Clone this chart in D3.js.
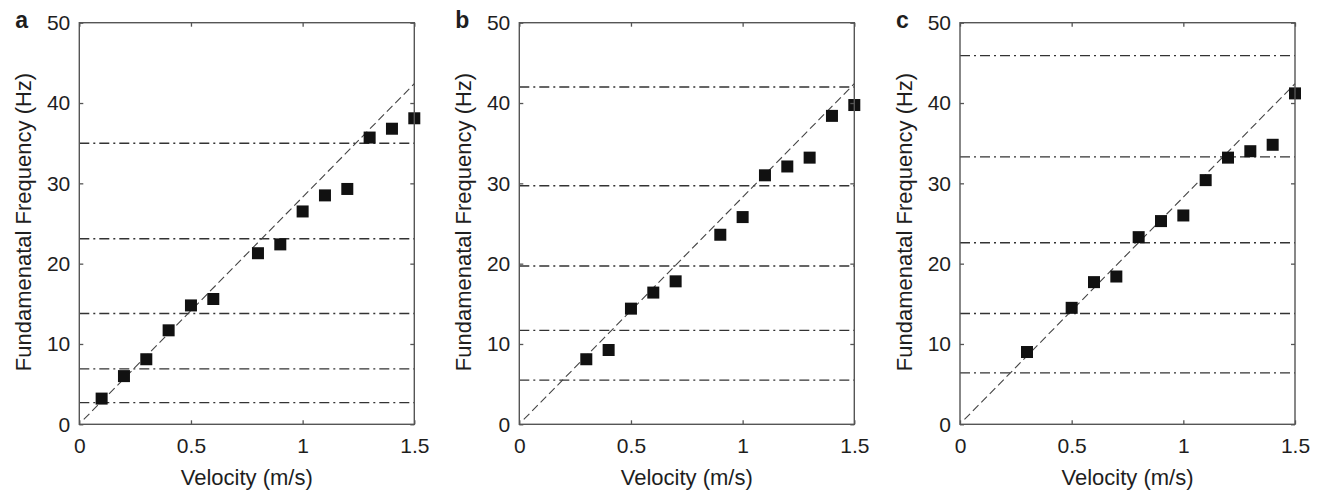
<!DOCTYPE html>
<html>

<head>
    <meta charset="utf-8">
    <script src="https://d3js.org/d3.v7.min.js"></script>
    <style>
        body { margin: 0; background: #fff; }
        text { font-family: "Liberation Sans", Arial, sans-serif; fill: #1e1e1e; }
    </style>
</head>

<body>
    <script>
        // panel a
        let velA = [0.1, 0.2, 0.3, 0.4, 0.5, 0.6, 0.8, 0.9, 1.0, 1.1, 1.2, 1.3, 1.4, 1.5];
        let freqA = [3.2, 6.0, 8.1, 11.7, 14.8, 15.6, 21.3, 22.4, 26.5, 28.5, 29.3, 35.7, 36.8, 38.1];
        let modesA = [2.7, 6.9, 13.8, 23.1, 35.0];

        // panel b
        let velB = [0.3, 0.4, 0.5, 0.6, 0.7, 0.9, 1.0, 1.1, 1.2, 1.3, 1.4, 1.5];
        let freqB = [8.1, 9.25, 14.4, 16.4, 17.8, 23.6, 25.8, 31.0, 32.1, 33.2, 38.4, 39.75];
        let modesB = [5.5, 11.7, 19.7, 29.7, 42.0];

        // panel c
        let velC = [0.3, 0.5, 0.6, 0.7, 0.8, 0.9, 1.0, 1.1, 1.2, 1.3, 1.4, 1.5];
        let freqC = [9.0, 14.5, 17.7, 18.4, 23.3, 25.3, 26.0, 30.4, 33.2, 34.0, 34.8, 41.2];
        let modesC = [6.4, 13.8, 22.6, 33.3, 45.9];

        // dashed reference line (same in all panels)
        let refVel = [0.02, 1.5];
        let refFreq = [0.6, 42.4];

        let panelLetters = ['a', 'b', 'c'];
        let xTicks = [0, 0.5, 1, 1.5];
        let yTicks = [0, 10, 20, 30, 40, 50];

        let panels = [
            { letter: panelLetters[0], vel: velA, freq: freqA, modes: modesA },
            { letter: panelLetters[1], vel: velB, freq: freqB, modes: modesB },
            { letter: panelLetters[2], vel: velC, freq: freqC, modes: modesC }
        ];

        let width = 1320;
        let height = 493;
        let plotW = 335;
        let plotTop = 22.7;
        let plotBottom = 424.3;
        let lefts = [79.3, 519.3, 960];

        let svg = d3.select('body').append('svg')
            .attr('width', width)
            .attr('height', height);

        panels.forEach(function (p, i) {
            let x0 = lefts[i];
            let x = d3.scaleLinear().domain([0, 1.5]).range([x0, x0 + plotW]);
            let y = d3.scaleLinear().domain([0, 50]).range([plotBottom, plotTop]);
            let g = svg.append('g');

            // mode lines (dash-dot)
            g.selectAll('line.mode')
                .data(p.modes)
                .enter()
                .append('line')
                .attr('x1', x(0)).attr('x2', x(1.5))
                .attr('y1', d => y(d)).attr('y2', d => y(d))
                .attr('stroke', '#333')
                .attr('stroke-width', 1.4)
                .attr('stroke-dasharray', '10,4,2,4');

            // reference dashed line
            let line = d3.line().x(d => x(d[0])).y(d => y(d[1]));
            g.append('path')
                .datum(d3.zip(refVel, refFreq))
                .attr('d', line)
                .attr('fill', 'none')
                .attr('stroke', '#444')
                .attr('stroke-width', 1.1)
                .attr('stroke-dasharray', '8,4');

            // points
            let s = 12;
            g.selectAll('rect.pt')
                .data(d3.zip(p.vel, p.freq))
                .enter()
                .append('rect')
                .attr('x', d => x(d[0]) - s / 2)
                .attr('y', d => y(d[1]) - s / 2)
                .attr('width', s)
                .attr('height', s)
                .attr('fill', '#111');

            // axes
            g.append('g')
                .attr('transform', 'translate(0,' + plotBottom + ')')
                .call(d3.axisBottom(x).tickValues(xTicks).tickFormat(d => String(d))
                    .tickSizeInner(-4).tickSizeOuter(0).tickPadding(14));
            g.append('g')
                .attr('transform', 'translate(' + x0 + ',0)')
                .call(d3.axisLeft(y).tickValues(yTicks)
                    .tickSizeInner(-4).tickSizeOuter(0).tickPadding(9));
            g.append('g')
                .attr('transform', 'translate(0,' + plotTop + ')')
                .call(d3.axisTop(x).tickValues(xTicks).tickFormat('')
                    .tickSizeInner(-4).tickSizeOuter(0));
            g.append('g')
                .attr('transform', 'translate(' + (x0 + plotW) + ',0)')
                .call(d3.axisRight(y).tickValues(yTicks).tickFormat('')
                    .tickSizeInner(-4).tickSizeOuter(0));

            g.selectAll('.domain').remove();
            g.selectAll('.tick line').attr('stroke', '#555').attr('stroke-width', 1.3);
            g.selectAll('.tick text')
                .style('font-family', '"Liberation Sans", Arial, sans-serif')
                .style('font-size', '21px')
                .attr('fill', '#1e1e1e');

            // frame
            g.append('rect')
                .attr('x', x0).attr('y', plotTop)
                .attr('width', plotW).attr('height', plotBottom - plotTop)
                .attr('fill', 'none')
                .attr('stroke', '#555')
                .attr('stroke-width', 1.4);

            // titles
            g.append('text')
                .attr('x', x0 + plotW / 2)
                .attr('y', 485)
                .attr('text-anchor', 'middle')
                .style('font-size', '22px')
                .text('Velocity (m/s)');

            g.append('text')
                .attr('transform', 'translate(' + (x0 - 48) + ',' + 222 + ') rotate(-90)')
                .attr('text-anchor', 'middle')
                .style('font-size', '22px')
                .text('Fundamenatal Frequency (Hz)');

            g.append('text')
                .attr('x', x0 - 64)
                .attr('y', 28)
                .style('font-size', '23px')
                .style('font-weight', 'bold')
                .attr('fill', '#111')
                .text(p.letter);
        });
    </script>
</body>

</html>
